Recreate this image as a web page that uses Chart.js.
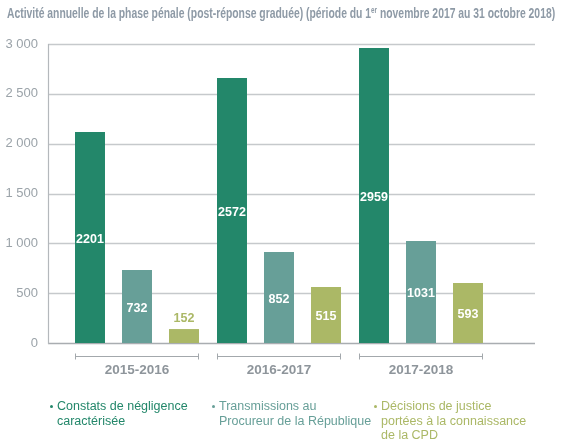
<!DOCTYPE html>
<html>
<head>
<meta charset="utf-8">
<script src="https://cdn.jsdelivr.net/npm/chart.js@4.4.1/dist/chart.umd.min.js"></script>
<style>
  html, body { margin: 0; padding: 0; background: #fff; }
  #wrap { position: relative; width: 565px; height: 444px; overflow: hidden; }
  #chart { position: absolute; left: 0; top: 0; }
  .title {
    position: absolute; left: 7px; top: 5px; white-space: nowrap;
    font-family: "Liberation Sans", Arial, sans-serif;
    font-weight: bold; font-size: 14px; color: #8e9aa6;
    transform-origin: 0 0;
  }
  .title sup { font-size: 8.5px; vertical-align: 5px; line-height: 0; }
  .legend-item {
    position: absolute; top: 399px; font-family: "Liberation Sans", Arial, sans-serif;
    font-size: 12.5px; line-height: 14.5px; padding-left: 7px;
  }
  .legend-item::before {
    content: ""; position: absolute; left: 0; top: 6px; width: 3px; height: 3px;
    border-radius: 50%; background: currentColor;
  }
</style>
</head>
<body>
<div id="wrap">
  <canvas id="chart" width="565" height="444"></canvas>
  <div class="title" id="title">Activité annuelle de la phase pénale (post-réponse graduée) (période du 1<sup>er</sup> novembre 2017 au 31 octobre 2018)</div>
  <div class="legend-item" style="left:50px;color:#23876a">Constats de négligence<br>caractérisée</div>
  <div class="legend-item" style="left:212px;color:#679f98">Transmissions au<br>Procureur de la République</div>
  <div class="legend-item" style="left:374px;color:#abb866">Décisions de justice<br>portées à la connaissance<br>de la CPD</div>
</div>
<script>
// Activité annuelle de la phase pénale
const years = ['2015-2016', '2016-2017', '2017-2018'];

// bar heights
const constats = [2117, 2658, 2959];
const transmissions = [732, 913, 1023];
const decisions = [140, 562, 602];

// figures printed on the bars
const constatsLabels = ['2201', '2572', '2959'];
const transmissionsLabels = ['732', '852', '1031'];
const decisionsLabels = ['152', '515', '593'];

const yTicks = [0, 500, 1000, 1500, 2000, 2500, 3000];

const colors = ['#23876a', '#679f98', '#abb866'];
const printed = [constatsLabels, transmissionsLabels, decisionsLabels];

// the title is set in a condensed face in the original, squeeze it to the same width
const title = document.getElementById('title');
title.style.transform = 'scaleX(' + (548 / title.offsetWidth) + ')';

function fmt(v) {
    return v >= 1000 ? Math.floor(v / 1000) + ' ' + String(v % 1000).padStart(3, '0') : String(v);
}

// grid lines reach past the chart area, plus the brackets under each year
const framePlugin = {
    id: 'frame',
    beforeDatasetsDraw(chart) {
        const ctx = chart.ctx;
        const y = chart.scales.y;
        const left = 48, right = 535;
        ctx.save();
        yTicks.forEach(t => {
            const py = Math.round(y.getPixelForValue(t)) + 0.5;
            ctx.strokeStyle = t === 0 ? '#a9adb1' : '#c6c9cc';
            ctx.lineWidth = 1.5;
            ctx.beginPath();
            ctx.moveTo(left, py);
            ctx.lineTo(right, py);
            ctx.stroke();
        });
        ctx.strokeStyle = '#b4b8bc';
        ctx.lineWidth = 1.2;
        ctx.beginPath();
        ctx.moveTo(left + 0.5, y.getPixelForValue(3000));
        ctx.lineTo(left + 0.5, y.getPixelForValue(0) + 1);
        ctx.stroke();

        // brackets
        const first = chart.getDatasetMeta(0).data;
        const last = chart.getDatasetMeta(2).data;
        const by = y.getPixelForValue(0) + 13.5;
        ctx.strokeStyle = '#a3a8ac';
        ctx.lineWidth = 1;
        first.forEach((bar, i) => {
            const x0 = Math.round(bar.x - bar.width / 2) + 0.5;
            const x1 = Math.round(last[i].x + last[i].width / 2) - 0.5;
            ctx.beginPath();
            ctx.moveTo(x0, by);
            ctx.lineTo(x1, by);
            ctx.moveTo(x0, by - 3);
            ctx.lineTo(x0, by + 3);
            ctx.moveTo(x1, by - 3);
            ctx.lineTo(x1, by + 3);
            ctx.stroke();
        });
        ctx.restore();
    },
    afterDatasetsDraw(chart) {
        const ctx = chart.ctx;
        ctx.save();
        ctx.font = 'bold 12.5px "Liberation Sans", Arial, sans-serif';
        ctx.textAlign = 'center';
        ctx.textBaseline = 'middle';
        chart.data.datasets.forEach((ds, d) => {
            chart.getDatasetMeta(d).data.forEach((bar, i) => {
                const h = bar.base - bar.y;
                if (h < 22) {
                    ctx.fillStyle = colors[d];
                    ctx.fillText(printed[d][i], bar.x, bar.y - 10);
                } else {
                    ctx.fillStyle = '#ffffff';
                    ctx.fillText(printed[d][i], bar.x, bar.y + h / 2 + 2);
                }
            });
        });
        ctx.restore();
    }
};

const ctx = document.getElementById('chart').getContext('2d');
new Chart(ctx, {
    type: 'bar',
    data: {
        labels: years,
        datasets: [
            { label: 'Constats de négligence caractérisée', data: constats, backgroundColor: colors[0] },
            { label: 'Transmissions au Procureur de la République', data: transmissions, backgroundColor: colors[1] },
            { label: 'Décisions de justice portées à la connaissance de la CPD', data: decisions, backgroundColor: colors[2] }
        ]
    },
    options: {
        responsive: false,
        animation: false,
        layout: { padding: { left: 0, right: 73, top: 44, bottom: 0 } },
        datasets: { bar: { categoryPercentage: 0.993, barPercentage: 0.638 } },
        plugins: {
            legend: { display: false },
            title: { display: false },
            tooltip: { enabled: false }
        },
        scales: {
            x: {
                grid: { display: false, drawTicks: false },
                border: { display: false },
                afterFit(scale) { scale.height = 101; },
                ticks: {
                    padding: 19,
                    color: '#8e959b',
                    font: { family: '"Liberation Sans", Arial, sans-serif', size: 13.5, weight: 'bold' }
                }
            },
            y: {
                min: 0,
                max: 3000,
                grid: { display: false, drawTicks: false },
                border: { display: false },
                afterFit(scale) { scale.width = 66; },
                afterBuildTicks(scale) { scale.ticks = yTicks.map(v => ({ value: v })); },
                ticks: {
                    padding: 28,
                    color: '#9ba3a9',
                    font: { family: '"Liberation Sans", Arial, sans-serif', size: 13 },
                    callback: v => fmt(v)
                }
            }
        }
    },
    plugins: [framePlugin]
});
</script>
</body>
</html>
